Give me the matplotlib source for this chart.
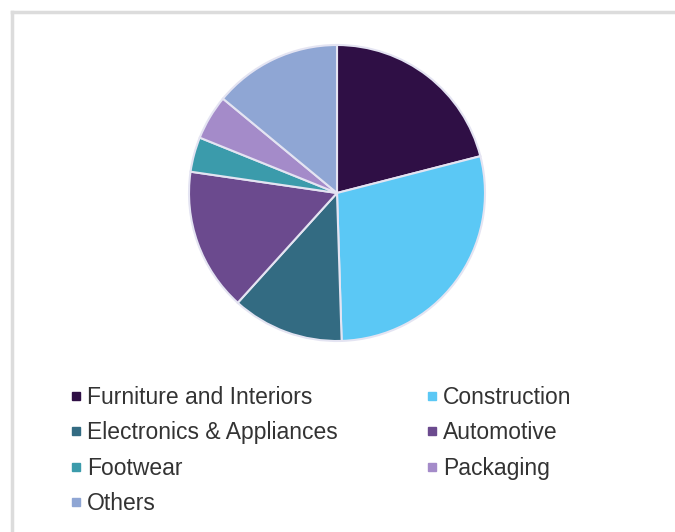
import matplotlib.pyplot as plt
from matplotlib.lines import Line2D

# market share by application (%)
labels = ['Furniture and Interiors', 'Construction', 'Electronics & Appliances',
          'Automotive', 'Footwear', 'Packaging', 'Others']
shares = [21.0, 28.5, 12.2, 15.6, 3.8, 4.9, 14.0]
colours = ['#2f0f45', '#5bc8f5', '#336b82', '#6b4a8e', '#3b9bab', '#a48bc9', '#8fa6d4']

W, H = 675, 532
fig = plt.figure(figsize=(W / 100, H / 100), dpi=100)
plt.rcParams['font.family'] = ['Liberation Sans', 'DejaVu Sans']

# light grey frame (top and left edges visible)
fig.add_artist(Line2D([12 / W, 12 / W], [0, 1 - 12 / H], color='#dcdcdc', lw=2.5,
                      transform=fig.transFigure))
fig.add_artist(Line2D([12 / W, 1], [1 - 12 / H, 1 - 12 / H], color='#dcdcdc', lw=2.5,
                      transform=fig.transFigure))

cx, cy, r = 337, 193, 148
ax = fig.add_axes([(cx - r) / W, (H - cy - r) / H, 2 * r / W, 2 * r / H])
ax.pie(shares, colors=colours, startangle=90, counterclock=False, radius=1,
       wedgeprops=dict(edgecolor='#e4e4f2', linewidth=1.5))
ax.set_xlim(-1, 1)
ax.set_ylim(-1, 1)
ax.set_aspect('equal')
ax.axis('off')

# legend row-major in two columns -> reorder for matplotlib's column-major fill
order = [0, 2, 4, 6, 1, 3, 5]
handles = [Line2D([], [], marker='s', linestyle='', markersize=5.2,
                  color=colours[i], label=labels[i]) for i in order]
fig.legend(handles=handles, ncol=2, loc='upper left',
           bbox_to_anchor=(73 / W, 1 - 386 / H), frameon=False,
           prop={'size': 16.5}, labelcolor='#333333',
           handlelength=0.3, handletextpad=0.3, columnspacing=3.99,
           labelspacing=0.54, borderpad=0, borderaxespad=0)

fig.savefig('out.png', dpi=100, facecolor='white')
